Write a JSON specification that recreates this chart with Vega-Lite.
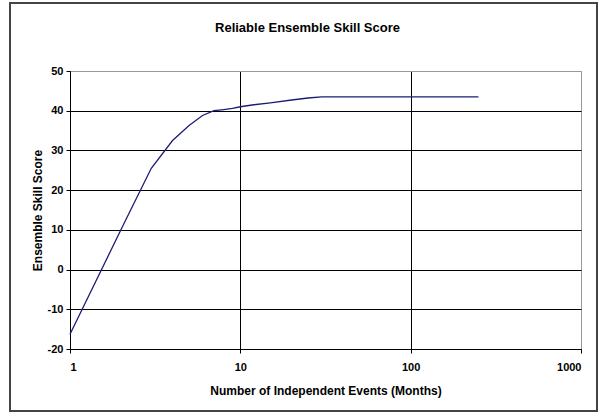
{
  "$schema": "https://vega.github.io/schema/vega-lite/v6.json",
  "width": 511,
  "height": 278,
  "autosize": {"type": "none"},
  "padding": {"left": 70, "top": 71, "right": 25, "bottom": 68},
  "background": "white",
  "title": {
    "text": "Reliable Ensemble Skill Score",
    "font": "Liberation Sans",
    "fontSize": 13,
    "fontWeight": "bold",
    "color": "black",
    "anchor": "middle",
    "offset": -33,
    "dx": -18
  },
  "config": {
    "view": {"stroke": "#999999", "strokeWidth": 1},
    "axis": {
      "labelFont": "Liberation Sans",
      "labelFontSize": 11,
      "labelFontWeight": "bold",
      "labelColor": "black",
      "titleFont": "Liberation Sans",
      "titleFontSize": 12,
      "titleFontWeight": "bold",
      "titleColor": "black",
      "domainColor": "black",
      "tickColor": "black",
      "tickSize": 4,
      "gridOpacity": 1,
      "gridWidth": 1
    }
  },
  "data": {
    "values": [
      {"events": 1, "score": -16.3},
      {"events": 2, "score": 10.2},
      {"events": 3, "score": 25.5},
      {"events": 4, "score": 32.5},
      {"events": 5, "score": 36.3},
      {"events": 6, "score": 38.8},
      {"events": 7, "score": 40.0},
      {"events": 8, "score": 40.3},
      {"events": 9, "score": 40.6},
      {"events": 10, "score": 41.0},
      {"events": 12, "score": 41.5},
      {"events": 15, "score": 42.0},
      {"events": 20, "score": 42.7},
      {"events": 25, "score": 43.2},
      {"events": 30, "score": 43.5},
      {"events": 50, "score": 43.5},
      {"events": 100, "score": 43.5},
      {"events": 250, "score": 43.5}
    ]
  },
  "layer": [
    {
      "mark": {"type": "line", "color": "#1c1c78", "strokeWidth": 1.3},
      "encoding": {
        "x": {
          "field": "events",
          "type": "quantitative",
          "scale": {"type": "log", "domain": [1, 1000], "nice": false},
          "axis": {
            "title": "Number of Independent Events (Months)",
            "values": [1, 10, 100, 1000],
            "labelExpr": "'' + datum.value",
            "grid": true,
            "gridColor": {"expr": "datum.value == 1000 ? '#999999' : 'black'"},
            "labelPadding": 8,
            "titlePadding": 13
          }
        },
        "y": {
          "field": "score",
          "type": "quantitative",
          "scale": {"domain": [-20, 50], "nice": false},
          "axis": {
            "title": "Ensemble Skill Score",
            "values": [-20, -10, 0, 10, 20, 30, 40, 50],
            "labelExpr": "'' + datum.value",
            "grid": true,
            "gridColor": {"expr": "datum.value == 50 ? '#999999' : 'black'"},
            "labelPadding": 3,
            "titlePadding": 3
          }
        }
      }
    },
    {
      "mark": {"type": "rect", "fill": null, "stroke": "#444444", "strokeWidth": 2, "clip": false},
      "encoding": {
        "x": {"value": -60},
        "x2": {"value": 527},
        "y": {"value": -68},
        "y2": {"value": 340}
      }
    }
  ]
}
